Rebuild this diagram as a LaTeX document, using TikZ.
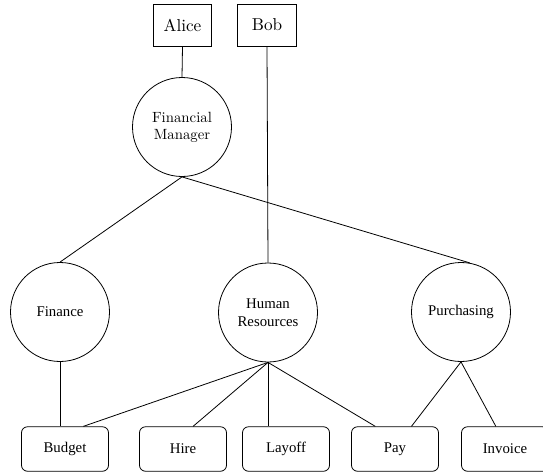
\documentclass[tikz,border=0pt]{standalone}
\usepackage{fontspec}
\newfontfamily\timesf{Liberation Serif}
\newfontfamily\lmten{lmroman10-regular}[Extension=.otf]
\begin{document}
\begin{tikzpicture}[x=1pt,y=-1pt,line width=0.8pt,
  person/.style={draw, minimum width=58.5pt, minimum height=42pt, inner sep=0pt, font=\lmten\fontsize{17.2}{20}\selectfont},
  mgr/.style={draw, circle, minimum size=99pt, inner sep=0pt, align=center, font=\lmten\fontsize{14.8}{17}\selectfont},
  role/.style={draw, circle, minimum size=99pt, inner sep=0pt, align=center, font=\timesf\fontsize{14.8}{18.5}\selectfont},
  task/.style={draw, rounded corners=6pt, minimum width=87pt, minimum height=44.5pt, inner sep=0pt, font=\timesf\fontsize{14.8}{18}\selectfont},
  link/.style={draw, line width=0.8pt}]
\useasboundingbox (0,0) rectangle (543,474);
\node[person] (alice) at (182.5,25) {Alice};
\node[person] (bob) at (267,25) {Bob};
\node[mgr] (fm) at (182,127) {Financial\\Manager};
\node[role] (fin) at (60,312) {Finance};
\node[role] (hr) at (268,312.5) {Human\\Resources};
\node[role] (pur) at (461,312) {Purchasing};
\node[task] (bud) at (65,449) {Budget};
\node[task] (hire) at (183,449) {Hire};
\node[task] (lay) at (286,449) {Layoff};
\node[task] (pay) at (395,449) {Pay};
\node[task] (inv) at (505,449) {Invoice};
\path[link] (alice.south) -- (fm.north);
\path[link] (bob.south) -- (hr.north);
\path[link] (fm.south) -- (fin.north);
\path[link] (fm.south) -- (pur.80);
\path[link] (fin.south) -- (fin.south |- bud.north);
\path[link] (hr.south) -- (bud.51);
\path[link] (hr.south) -- (hire.66);
\path[link] (hr.south) -- (hr.south |- lay.north);
\path[link] (hr.south) -- (pay.131);
\path[link] (pur.south) -- (pay.54);
\path[link] (pur.south) -- (inv.112);
\end{tikzpicture}
\end{document}
